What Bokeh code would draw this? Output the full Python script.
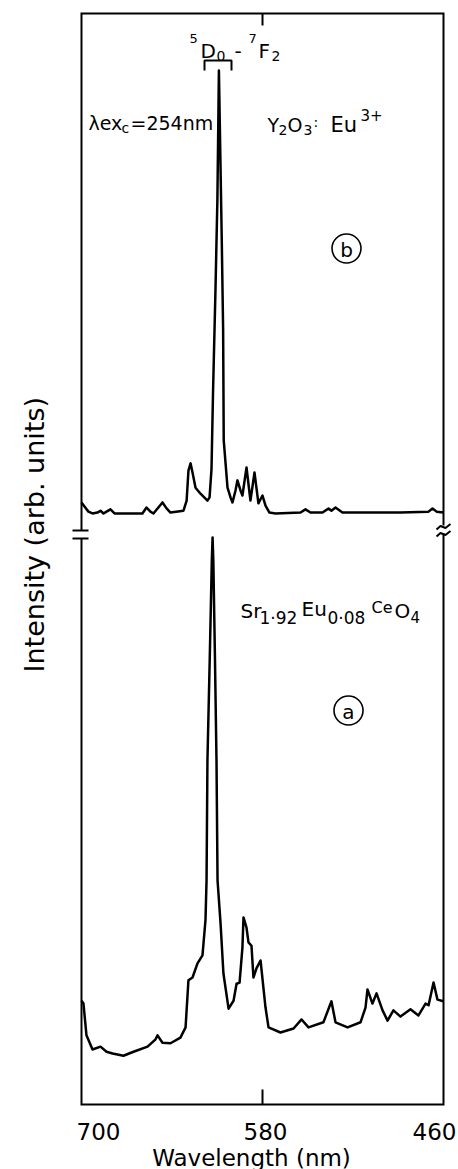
from math import pi
from bokeh.plotting import figure
from bokeh.models import Range1d
from bokeh.embed import file_html
from bokeh.resources import INLINE
from bokeh.core.properties import value

FONT = "DejaVu Sans"

# ---------------- data ----------------
# (a) Sr1.92Eu0.08CeO4 emission, wavelength (nm) and intensity (arb. units, peak = 100)
wl_a = [700.0, 698.7, 696.7, 692.7, 687.4, 683.4, 679.4, 672.2, 665.5, 656.2,
        650.9, 649.6, 646.3, 641.0, 634.4, 631.0, 629.1, 626.4, 623.1, 619.8,
        617.8, 617.1, 616.5, 615.0, 613.6, 613.1, 612.6, 611.5, 610.5, 609.8,
        607.8, 605.9, 602.5, 599.2, 597.2, 595.2, 593.3, 592.6, 590.6, 589.3,
        587.3, 586.0, 584.0, 581.3, 578.0, 576.0, 568.1, 559.4, 554.1, 549.5,
        539.6, 534.3, 531.6, 523.6, 515.0, 511.7, 510.4, 507.1, 504.4, 500.4,
        497.1, 493.2, 488.5, 481.9, 476.6, 471.9, 469.9, 466.6, 464.0, 460.0]
int_a = [18.3, 17.8, 12.2, 9.7, 10.2, 9.3, 9.0, 8.6, 9.3, 10.2,
         11.5, 12.2, 10.9, 10.8, 11.8, 13.6, 21.9, 22.4, 24.9, 26.3,
         32.5, 39.5, 60.7, 78.4, 96.0, 100.0, 96.0, 78.4, 60.7, 39.5,
         31.9, 23.1, 16.9, 18.3, 21.3, 21.5, 27.7, 33.0, 31.2, 28.6,
         28.0, 22.4, 24.0, 25.4, 17.1, 13.6, 12.7, 13.4, 15.0, 13.6,
         14.5, 18.2, 14.5, 13.6, 14.5, 17.1, 20.3, 17.8, 19.6, 16.6,
         14.8, 16.6, 15.5, 16.8, 15.7, 17.8, 17.5, 21.5, 18.5, 18.2]

# (b) Y2O3:Eu3+ emission, wavelength (nm) and intensity (arb. units, peak = 100)
wl_b = [700.0, 698.0, 695.4, 692.7, 689.4, 687.4, 685.4, 683.4, 680.8, 678.1,
        659.6, 656.9, 654.3, 652.3, 646.3, 643.6, 641.0, 632.4, 630.3, 629.1,
        627.7, 626.4, 624.4, 621.1, 616.5, 615.1, 613.8, 612.8, 611.2, 609.9,
        608.9, 607.0, 606.1, 605.7, 603.2, 601.2, 599.9, 597.9, 596.6, 594.6,
        593.3, 590.6, 588.0, 585.3, 582.7, 580.0, 578.0, 575.4, 571.4, 554.8,
        551.5, 548.2, 540.2, 536.2, 534.3, 531.6, 527.0, 488.5, 469.9, 467.3,
        464.6, 460.0]
int_b = [6.1, 5.2, 4.1, 3.7, 3.9, 4.3, 3.7, 4.1, 4.6, 3.7,
         3.7, 5.0, 4.1, 3.7, 6.1, 4.8, 3.9, 4.3, 6.5, 13.0,
         14.6, 12.6, 9.3, 8.0, 6.5, 7.2, 13.4, 30.0, 52.0, 72.0,
         100.0, 63.0, 43.5, 19.6, 9.3, 7.2, 6.1, 8.7, 10.9, 8.7,
         7.6, 13.7, 6.5, 12.6, 5.9, 7.6, 5.4, 3.9, 3.7, 3.9,
         4.6, 3.9, 3.9, 4.8, 4.3, 5.0, 3.9, 3.9, 4.1, 4.8,
         4.1, 3.9]

x_ticks = [700, 580, 460]
x_tick_labels = ["700", "580", "460"]
x_title = "Wavelength (nm)"
y_title = "Intensity (arb. units)"

# ---------------- layout helpers (picture pixels -> data coords) ----------------
W, H = 458, 1169
PX_PER_NM = 362.0 / 240.0
X0_PIX = 81.0      # pixel x of 700 nm
Y0_PIX = 1104.0    # pixel y of the bottom axis


def lx(px):
    return 700.0 - (px - X0_PIX) / PX_PER_NM


def ly(py):
    return Y0_PIX - py


SCALE_A, OFF_A = 5.67, 0.0
SCALE_B, OFF_B = 4.6, ly(530)

p = figure(width=W, height=H,
           x_range=Range1d(lx(0), lx(W)),
           y_range=Range1d(ly(H), ly(0)),
           x_axis_location=None, y_axis_location=None,
           output_backend="svg", toolbar_location=None,
           min_border_left=0, min_border_right=0,
           min_border_top=0, min_border_bottom=0)
p.grid.visible = False
p.outline_line_color = None
p.background_fill_color = "white"
p.border_fill_color = "white"

# ---------------- spectra ----------------
ya = [OFF_A + SCALE_A * v for v in int_a]
yb = [OFF_B + SCALE_B * v for v in int_b]
p.line(wl_a, ya, line_color="black", line_width=2.5, line_join="round")
p.line(wl_b, yb, line_color="black", line_width=2.5, line_join="round")

# ---------------- frame with axis breaks ----------------
XL, XR = x_ticks[0], x_ticks[-1]
p.multi_line(xs=[[XL, XL, XR, XR], [XL, XL, XR, XR]],
             ys=[[ly(530), ly(13), ly(13), ly(525)],
                 [ly(538), ly(1104), ly(1104), ly(533)]],
             line_color="black", line_width=2, line_join="miter")
# left break marks
p.multi_line(xs=[[lx(72), lx(88)], [lx(72), lx(88)]],
             ys=[[ly(530), ly(530)], [ly(538), ly(538)]],
             line_color="black", line_width=2)
# right break marks (wavy)
p.multi_line(xs=[[lx(436), lx(440), lx(445), lx(450)], [lx(436), lx(440), lx(445), lx(450)]],
             ys=[[ly(529), ly(525.5), ly(527.5), ly(523.5)],
                 [ly(536), ly(532.5), ly(534.5), ly(530.5)]],
             line_color="black", line_width=2)
# inner ticks at 580
p.segment(x0=[x_ticks[1], x_ticks[1]], y0=[ly(1104), ly(13)],
          x1=[x_ticks[1], x_ticks[1]], y1=[ly(1089), ly(25)],
          line_color="black", line_width=2)

# bracket over the 5D0-7F2 peak
p.line([lx(204), lx(204), lx(231), lx(231)], [ly(70), ly(60), ly(60), ly(70)],
       line_color="black", line_width=2)


def txt(px, py, s, size, align="left", baseline="alphabetic", angle=0.0):
    p.text(x=[lx(px)], y=[ly(py)], text=[s], text_font=value(FONT),
           text_font_size=value(f"{size}px"), text_align=align,
           text_baseline=baseline, text_color="black", angle=angle)


# 5D0 - 7F2
txt(189, 38, "5", 13)
txt(200, 50, "D", 20)
txt(216, 55, "0", 14)
txt(234, 50, "-", 20)
txt(248, 38, "7", 13)
txt(258, 50, "F", 20)
txt(271, 55, "2", 14)

# lambda exc = 254nm
txt(88, 122, "\u03bbex", 19)
txt(121, 127, "c", 14)
txt(130, 122, "=254nm", 19)

# Y2O3 : Eu3+
txt(267, 124, "Y", 19)
txt(278, 129, "2", 14)
txt(287, 124, "O", 19)
txt(303, 129, "3", 14)
txt(313, 121, ":", 14)
txt(330, 124, "Eu", 21)
txt(360, 114, "3+", 15)

# Sr1.92Eu0.08CeO4
txt(240, 610, "Sr", 20)
txt(259, 617, "1\u00b792", 17)
txt(301, 608, "Eu", 20)
txt(327, 617, "0\u00b708", 17)
txt(371, 607, "Ce", 16)
txt(394, 610, "O", 20)
txt(410, 616, "4", 15)

# circled labels
p.scatter(x=[lx(346), lx(348)], y=[ly(248), ly(710)], marker="circle", size=29,
          fill_color=None, line_color="black", line_width=1.6)
txt(346, 249, "b", 20, align="center", baseline="middle")
txt(348, 711, "a", 20, align="center", baseline="middle")

# ---------------- axis texts ----------------
p.text(x=x_ticks, y=[ly(1131)] * 3, text=x_tick_labels, x_offset=[17, 3, -9],
       text_font=value(FONT), text_font_size=value("23px"), text_align="center",
       text_baseline="alphabetic", text_color="black")
txt(251, 1157, x_title, 23, align="center")
txt(34, 672, y_title, 27, align="left", angle=pi / 2)

open("out.html", "w").write(file_html(p, INLINE))
